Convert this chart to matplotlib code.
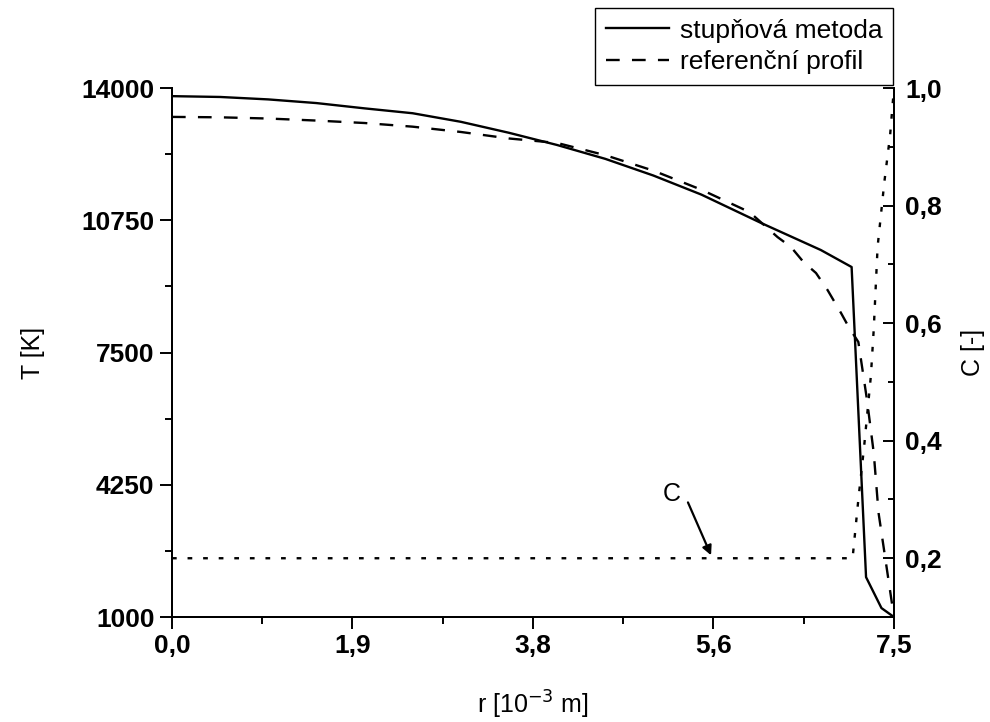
import matplotlib
matplotlib.use("Agg")
import matplotlib.pyplot as plt
from matplotlib.ticker import FixedLocator, MultipleLocator

plt.rcParams['font.family'] = ['Liberation Sans', 'DejaVu Sans']

# -------------------------
# Data
# -------------------------
r_step = [0.0, 0.5, 1.0, 1.5, 2.0, 2.5, 3.0, 3.5, 4.0, 4.5, 5.0, 5.5,
          6.12, 6.74, 7.06, 7.21, 7.37, 7.5]
T_step = [13800, 13780, 13720, 13630, 13500, 13380, 13170, 12900, 12600,
          12260, 11850, 11380, 10683, 10019, 9601, 1980, 1220, 1000]

r_ref = [0.0, 0.5, 1.0, 1.5, 2.0, 2.5, 3.0, 3.5, 4.0, 4.5, 5.0, 5.5, 6.0,
         6.29, 6.43, 6.56, 6.69, 6.81, 6.95, 7.03, 7.13, 7.22, 7.29, 7.34, 7.5]
T_ref = [13290, 13280, 13250, 13200, 13140, 13050, 12920, 12760, 12650,
         12350, 11970, 11500, 10950, 10338, 10093, 9724, 9454, 9036, 8471,
         8127, 7758, 6333, 5030, 3556, 1000]

r_c = [0.0, 7.07, 7.13, 7.19, 7.26, 7.29, 7.33, 7.40, 7.46, 7.5]
C_val = [0.2, 0.2, 0.30, 0.39, 0.51, 0.59, 0.73, 0.84, 0.92, 1.0]

x_ticks = [0.0, 1.875, 3.75, 5.625, 7.5]
x_labels = ["0,0", "1,9", "3,8", "5,6", "7,5"]
t_ticks = [1000, 4250, 7500, 10750, 14000]
c_ticks = [0.2, 0.4, 0.6, 0.8, 1.0]
c_labels = ["0,2", "0,4", "0,6", "0,8", "1,0"]

# -------------------------
# Plot
# -------------------------
fig = plt.figure(figsize=(9.9, 7.22), dpi=100)
ax = fig.add_axes([0.1737, 0.1454, 0.7293, 0.7327])
ax2 = ax.twinx()

lw = 1.7
ax.plot(r_step, T_step, color="black", lw=lw, label="stupňová metoda")
ax.plot(r_ref, T_ref, color="black", lw=lw, linestyle=(0, (5.8, 5.2)),
        label="referenční profil")
ax2.plot(r_c, C_val, color="black", lw=lw, linestyle=(0, (2.0, 4.6)))

ax.set_xlim(0, 7.5)
ax.set_ylim(1000, 14000)
ax2.set_ylim(0.1, 1.0)

ax.set_xticks(x_ticks)
ax.set_xticklabels(x_labels)
ax.xaxis.set_minor_locator(FixedLocator([0.9375, 2.8125, 4.6875, 6.5625]))
ax.set_yticks(t_ticks)
ax.set_yticklabels([str(t) for t in t_ticks])
ax.yaxis.set_minor_locator(FixedLocator([2625, 5875, 9125, 12375]))
ax2.set_yticks(c_ticks)
ax2.set_yticklabels(c_labels)
ax2.yaxis.set_minor_locator(MultipleLocator(0.1))

for a in (ax, ax2):
    a.spines["top"].set_visible(False)
    for s in a.spines.values():
        s.set_linewidth(1.4)

ax.tick_params(axis="both", which="major", direction="out", length=8.5,
               width=1.4, labelsize=19, pad=4)
ax.tick_params(axis="both", which="minor", direction="out", length=5,
               width=1.4)
ax2.tick_params(axis="y", which="major", direction="in", length=8,
                width=1.4, labelsize=19, pad=8)
ax2.tick_params(axis="y", which="minor", direction="in", length=4.5,
                width=1.4)
for lab in ax.get_xticklabels() + ax.get_yticklabels() + ax2.get_yticklabels():
    lab.set_fontweight("bold")

ax.set_xlabel("r [10$^{-3}$ m]", fontsize=18, labelpad=22)
ax.set_ylabel("T [K]", fontsize=18, labelpad=26)
ax2.set_ylabel("C [-]", fontsize=18, labelpad=14)

# annotation for C
ax2.text(5.19, 0.31, "C", fontsize=18, ha="center", va="center")
ax2.annotate("", xy=(5.60, 0.205), xytext=(5.36, 0.295),
             arrowprops=dict(arrowstyle="-|>", color="black", lw=1.6,
                             mutation_scale=14, shrinkA=0, shrinkB=0))

leg = ax.legend(loc="lower right", bbox_to_anchor=(893 / 990, 1 - 85 / 722),
                bbox_transform=fig.transFigure, fontsize=19, frameon=True,
                fancybox=False, framealpha=1, edgecolor="black",
                handlelength=2.4, handletextpad=0.4, borderpad=0.4,
                labelspacing=0.3, borderaxespad=0)
leg.get_frame().set_linewidth(1.0)

fig.savefig("out.png", dpi=100)
